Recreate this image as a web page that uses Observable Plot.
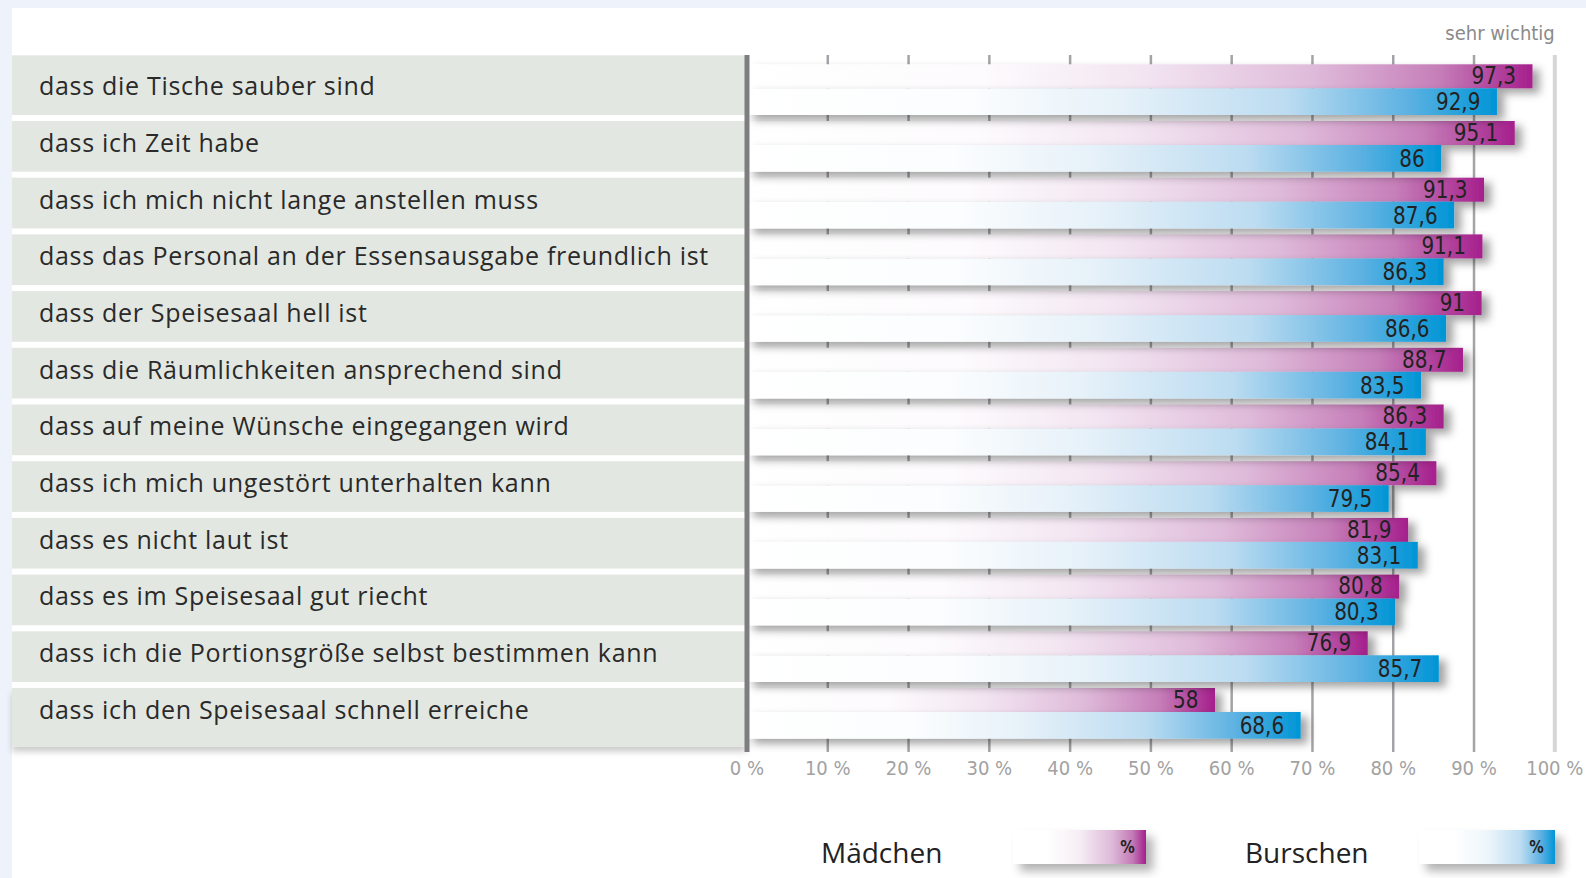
<!DOCTYPE html>
<html>
<head>
<meta charset="utf-8">
<script src="https://cdn.jsdelivr.net/npm/d3@7"></script>
<script src="https://cdn.jsdelivr.net/npm/@observablehq/plot@0.6"></script>
<style>
  html, body { margin: 0; padding: 0; }
  body { width: 1586px; height: 878px; background: #eef3fb; position: relative; overflow: hidden; font-family: "Open Sans", sans-serif; }
  #panel { position: absolute; left: 12px; top: 8px; right: 0; bottom: 0; background: #ffffff; }
  #chart { position: absolute; left: 0; top: 0; width: 1586px; height: 800px; }
  #chart svg { max-width: none !important; }
  .lg-text { position: absolute; font-family: "Open Sans", sans-serif; font-size: 28px; color: #222; line-height: 1; }
  .lg-sw { position: absolute; height: 34px; box-shadow: 7px 7px 9px rgba(0,0,0,0.3); }
  .lg-sw span { position: absolute; right: 10px; top: 50%; transform: translateY(-52%) scaleX(0.85); font-family: "DejaVu Sans", sans-serif; font-size: 17px; font-weight: bold; color: #222; }
</style>
</head>
<body>
<div id="panel"></div>
<div id="chart"></div>
<div class="lg-text" id="lgM" style="left:821px; top:838px;"></div>
<div class="lg-sw" style="left:1013px; top:830px; width:133px; background: linear-gradient(to right, #ffffff 0%, #ffffff 25%, #f6eef5 50%, #ddb8d8 75%, #c27ab5 90%, #a51f8c 100%);"><span>%</span></div>
<div class="lg-text" id="lgB" style="left:1245px; top:838px;"></div>
<div class="lg-sw" style="left:1419px; top:830px; width:136px; background: linear-gradient(to right, #ffffff 0%, #ffffff 25%, #eef6fb 50%, #bcdcf1 75%, #5aafe1 90%, #0095d6 100%);"><span>%</span></div>
<script>
const categories = [
  "dass die Tische sauber sind",
  "dass ich Zeit habe",
  "dass ich mich nicht lange anstellen muss",
  "dass das Personal an der Essensausgabe freundlich ist",
  "dass der Speisesaal hell ist",
  "dass die Räumlichkeiten ansprechend sind",
  "dass auf meine Wünsche eingegangen wird",
  "dass ich mich ungestört unterhalten kann",
  "dass es nicht laut ist",
  "dass es im Speisesaal gut riecht",
  "dass ich die Portionsgröße selbst bestimmen kann",
  "dass ich den Speisesaal schnell erreiche"
];
const maedchen = [97.3, 95.1, 91.3, 91.1, 91, 88.7, 86.3, 85.4, 81.9, 80.8, 76.9, 58];
const burschen = [92.9, 86, 87.6, 86.3, 86.6, 83.5, 84.1, 79.5, 83.1, 80.3, 85.7, 68.6];
const xTicks = [0, 10, 20, 30, 40, 50, 60, 70, 80, 90, 100];
const tickLabels = ["0 %", "10 %", "20 %", "30 %", "40 %", "50 %", "60 %", "70 %", "80 %", "90 %", "100 %"];
const seriesNames = ["Mädchen", "Burschen"];
const topNote = "sehr wichtig";

document.getElementById("lgM").textContent = seriesNames[0];
document.getElementById("lgB").textContent = seriesNames[1];

const rows = categories.map((c, i) => ({cat: c, m: maedchen[i], b: burschen[i]}));
const fmt = v => String(v).replace(".", ",");
const numFont = "'DejaVu Sans', sans-serif";
const labelFont = "'Open Sans', sans-serif";

const plot = Plot.plot({
  width: 1586,
  height: 800,
  marginTop: 55,
  marginBottom: 48,
  marginLeft: 12,
  marginRight: 0,
  style: {background: "transparent", overflow: "visible"},
  x: {domain: [0, 100], range: [746.5, 1554.3], axis: null},
  y: {type: "band", domain: categories, range: [58.3, 738.7], padding: 0, round: false, axis: null},
  marks: [
    // label panel rows
    Plot.barX(rows, {filter: (d, i) => i === 0, y: "cat", x1: 0, x2: 0, insetLeft: -734.5, insetTop: -3, fill: "#e3e7e1"}),
    Plot.barX(rows, {filter: (d, i) => i > 0 && i < rows.length - 1, y: "cat", x1: 0, x2: 0, insetLeft: -734.5, insetTop: 6, fill: "#e3e7e1"}),
    Plot.barX(rows, {filter: (d, i) => i === rows.length - 1, y: "cat", x1: 0, x2: 0, insetLeft: -734.5, insetTop: 6, insetBottom: -8, fill: "#e3e7e1"}),
    Plot.text(rows, {y: "cat", x: 0, dx: -708, dy: 0, text: "cat", textAnchor: "start", fontSize: 25, fill: "#2a2a2a", fontFamily: labelFont}),
    // grid
    Plot.ruleX(xTicks.filter(d => d > 0 && d < 100), {x: d => d, stroke: "#a4a4a8", strokeWidth: 2.5}),
    Plot.ruleX([100], {x: d => d, stroke: "#d6d6d8", strokeWidth: 4}),
    Plot.ruleX([categories[0]], {x: 100, y: d => d, insetTop: -3, stroke: "#8e8e92", strokeWidth: 5}),
    // bars
    Plot.barX(rows, {y: "cat", x: "m", insetTop: 6, insetBottom: 26.7, fill: "url(#gPink)"}),
    Plot.barX(rows, {y: "cat", x: "b", insetTop: 30, insetBottom: 0, fill: "url(#gBlue)"}),
    // axis line
    Plot.ruleX([0], {x: d => d, stroke: "#7e7e80", strokeWidth: 5}),
    // value labels
    Plot.text(rows, {y: "cat", x: "m", text: d => fmt(d.m), textAnchor: "end", dx: -17, dy: -11, fontSize: 25, fill: "#222", fontFamily: numFont}),
    Plot.text(rows, {y: "cat", x: "b", text: d => fmt(d.b), textAnchor: "end", dx: -17, dy: 15, fontSize: 25, fill: "#222", fontFamily: numFont}),
    // tick labels
    Plot.text(xTicks, {x: d => d, frameAnchor: "bottom", lineAnchor: "middle", dy: 16, text: (d, i) => tickLabels[i], fontSize: 20, fill: "#a2a2a2", fontFamily: numFont}),
    Plot.text([topNote], {x: 100, frameAnchor: "top", lineAnchor: "middle", textAnchor: "end", dy: -22, text: d => d, fontSize: 20, fill: "#8a8a8a", fontFamily: numFont})
  ]
});

document.getElementById("chart").appendChild(plot);

const svg = d3.select(plot);
const defs = svg.insert("defs", ":first-child");
function grad(id, stops) {
  const g = defs.append("linearGradient").attr("id", id).attr("x1", 0).attr("x2", 1).attr("y1", 0).attr("y2", 0);
  stops.forEach(([o, c]) => g.append("stop").attr("offset", o).attr("stop-color", c));
}
grad("gPink", [[0, "#ffffff"], [0.3, "#fdfbfd"], [0.5, "#f3e6f2"], [0.72, "#dfbbda"], [0.88, "#c67fb9"], [1, "#a51f8c"]]);
grad("gBlue", [[0, "#ffffff"], [0.3, "#fbfdfe"], [0.5, "#e6f1f9"], [0.72, "#bcdcf1"], [0.88, "#5eb2e2"], [1, "#0095d6"]]);
const f = defs.append("filter").attr("id", "shadow").attr("x", "-5%").attr("y", "-30%").attr("width", "120%").attr("height", "180%");
f.append("feDropShadow").attr("dx", 7).attr("dy", 5).attr("stdDeviation", 4.5).attr("flood-color", "#000").attr("flood-opacity", 0.36);
const fl = defs.append("filter").attr("id", "shadowL").attr("x", "-5%").attr("y", "-20%").attr("width", "115%").attr("height", "160%");
fl.append("feDropShadow").attr("dx", 0).attr("dy", 5).attr("stdDeviation", 3).attr("flood-color", "#000").attr("flood-opacity", 0.2);

const barGroups = svg.selectAll("g[aria-label='bar']").nodes();
if (barGroups.length >= 5) {
  d3.select(barGroups[2]).attr("filter", "url(#shadowL)");
  d3.select(barGroups[3]).attr("filter", "url(#shadow)");
  d3.select(barGroups[4]).attr("filter", "url(#shadow)");
}

// condense numeric texts horizontally
function condense(group, k) {
  d3.select(group).selectAll("text").each(function() {
    const t = this.getAttribute("transform");
    if (t) this.setAttribute("transform", t + ` scale(${k},1)`);
    else {
      const x = +this.getAttribute("x") || 0;
      this.setAttribute("transform", `translate(${x},0) scale(${k},1) translate(${-x},0)`);
    }
  });
}
const textGroups = svg.selectAll("g[aria-label='text']").nodes();
if (textGroups.length >= 5) {
  d3.select(textGroups[0]).style("letter-spacing", "0.7px");
  condense(textGroups[1], 0.8);
  condense(textGroups[2], 0.8);
  condense(textGroups[3], 0.9);
  condense(textGroups[4], 0.9);
}
</script>
</body>
</html>
